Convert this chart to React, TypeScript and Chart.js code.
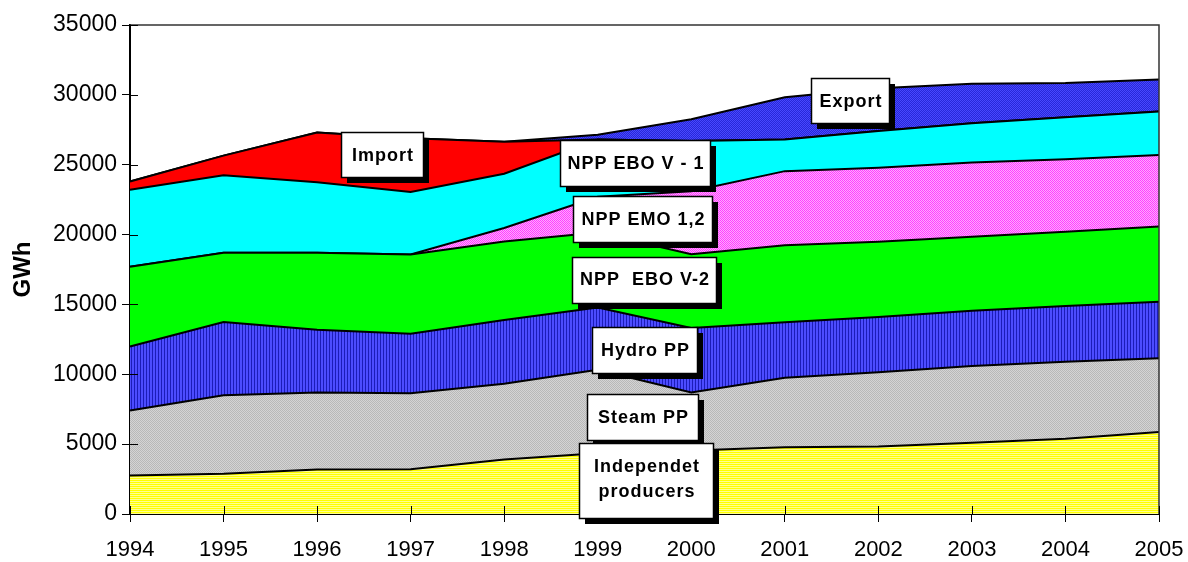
import React, { useEffect, useRef } from "react";
import { Chart, registerables } from "chart.js";

Chart.register(...registerables);

const years = ["1994", "1995", "1996", "1997", "1998", "1999", "2000", "2001", "2002", "2003", "2004", "2005"];
const independent = [2750, 2880, 3180, 3200, 3900, 4350, 4550, 4780, 4840, 5100, 5380, 5870];
const steam = [4650, 5620, 5520, 5440, 5420, 5980, 4140, 4970, 5310, 5490, 5520, 5270];
const hydro = [4590, 5240, 4490, 4260, 4560, 4450, 4630, 3980, 3950, 3960, 3990, 4060];
const eboV2 = [5710, 4960, 5510, 5680, 5620, 5370, 5280, 5500, 5380, 5300, 5320, 5370];
const emo12 = [0, 0, 0, 0, 970, 2550, 4500, 5310, 5310, 5300, 5180, 5130];
const eboV1 = [5500, 5550, 5050, 4470, 3880, 4100, 3600, 2260, 2630, 2810, 3010, 3100];
const importVals = [600, 1400, 3550, 3850, 2300, 0, 0, 0, 0, 0, 0, 0];
const exportVals = [0, 0, 0, 0, 0, 350, 1550, 3030, 3060, 2840, 2450, 2300];

const seriesNames = ["Independet producers", "Steam PP", "Hydro PP", "NPP  EBO V-2", "NPP EMO 1,2", "NPP EBO V - 1", "Import", "Export"];
const yTicks = [0, 5000, 10000, 15000, 20000, 25000, 30000, 35000];

const FONT = "'Liberation Sans', Arial, Helvetica, sans-serif";

type Box = { lines: string[]; x1: number; y1: number; x2: number; y2: number; base: number[] };
const boxes: Box[] = [
  { lines: ["Import"], x1: 341, y1: 132, x2: 423, y2: 177, base: [161] },
  { lines: ["NPP EBO V - 1"], x1: 560, y1: 140, x2: 710, y2: 186, base: [169] },
  { lines: ["NPP EMO 1,2"], x1: 573, y1: 196, x2: 712, y2: 242, base: [225] },
  { lines: ["NPP  EBO V-2"], x1: 572, y1: 257, x2: 716, y2: 303, base: [285] },
  { lines: ["Hydro PP"], x1: 592, y1: 327, x2: 697, y2: 373, base: [356] },
  { lines: ["Steam PP"], x1: 587, y1: 394, x2: 698, y2: 440, base: [423] },
  { lines: ["Independet", "producers"], x1: 579, y1: 443, x2: 713, y2: 518, base: [472, 497] },
  { lines: ["Export"], x1: 811, y1: 78, x2: 889, y2: 123, base: [107] },
];

function makePattern(ctx: CanvasRenderingContext2D, w: number, h: number, cells: string[][]) {
  const c = document.createElement("canvas");
  c.width = w;
  c.height = h;
  const g = c.getContext("2d")!;
  for (let y = 0; y < h; y++) {
    for (let x = 0; x < w; x++) {
      g.fillStyle = cells[y][x];
      g.fillRect(x, y, 1, 1);
    }
  }
  return ctx.createPattern(c, "repeat") as CanvasPattern;
}

const decorPlugin = {
  id: "decor",
  afterDatasetsDraw(chart: any) {
    const ctx = chart.ctx as CanvasRenderingContext2D;
    const { left, right, top, bottom } = chart.chartArea;
    const xs = chart.scales.x;
    const ys = chart.scales.y;
    ctx.save();
    ctx.strokeStyle = "#333";
    ctx.lineWidth = 1.5;
    ctx.beginPath();
    ctx.moveTo(left, top);
    ctx.lineTo(right, top);
    ctx.lineTo(right, bottom);
    ctx.stroke();
    ctx.strokeStyle = "#000";
    ctx.lineWidth = 1;
    ctx.beginPath();
    years.forEach((_, i) => {
      const x = Math.round(xs.getPixelForValue(i)) + 0.5;
      ctx.moveTo(x, bottom);
      ctx.lineTo(x, bottom - 8);
    });
    yTicks.forEach((v) => {
      const y = Math.round(ys.getPixelForValue(v)) + 0.5;
      ctx.moveTo(left, y);
      ctx.lineTo(left + 8, y);
    });
    ctx.stroke();
    ctx.restore();
  },
  afterDraw(chart: any) {
    const ctx = chart.ctx as CanvasRenderingContext2D;
    ctx.save();
    boxes.forEach((b) => {
      const w = b.x2 - b.x1;
      const h = b.y2 - b.y1;
      ctx.fillStyle = "#000";
      ctx.fillRect(b.x1 + 6, b.y1 + 6, w, h);
      ctx.fillStyle = "#fff";
      ctx.fillRect(b.x1, b.y1, w, h);
      ctx.strokeStyle = "#000";
      ctx.lineWidth = 1.5;
      ctx.strokeRect(b.x1 + 0.5, b.y1 + 0.5, w, h);
      ctx.fillStyle = "#000";
      ctx.font = `bold 18px ${FONT}`;
      (ctx as any).letterSpacing = "1px";
      ctx.textAlign = "center";
      ctx.textBaseline = "alphabetic";
      b.lines.forEach((t, i) => {
        ctx.fillText(t, (b.x1 + b.x2) / 2 + 1, b.base[i]);
      });
    });
    ctx.restore();
  },
};

export default function App() {
  const ref = useRef<HTMLCanvasElement | null>(null);
  useEffect(() => {
    const canvas = ref.current!;
    const ctx = canvas.getContext("2d")!;
    const pYellow = makePattern(ctx, 1, 2, [["#ffff00"], ["#ffff90"]]);
    const pGray = makePattern(ctx, 2, 2, [["#b8b8b8", "#d4d4d4"], ["#d4d4d4", "#b8b8b8"]]);
    const pHydro = makePattern(ctx, 3, 1, [["#4c4cff", "#4c4cff", "#1c1cb8"]]);
    const pPink = makePattern(ctx, 2, 2, [["#ff40ff", "#ffa8ff"], ["#ffa8ff", "#ff40ff"]]);
    const pExport = makePattern(ctx, 2, 2, [["#4848ff", "#2828d8"], ["#2828d8", "#4848ff"]]);
    const values = [independent, steam, hydro, eboV2, emo12, eboV1, importVals, exportVals];
    const fills: any[] = [pYellow, pGray, pHydro, "#00ff00", pPink, "#00ffff", "#ff0000", pExport];
    const chart = new Chart(canvas, {
      type: "line",
      data: {
        labels: years,
        datasets: values.map((d, i) => ({
          label: seriesNames[i],
          data: d,
          backgroundColor: fills[i],
          borderColor: "#000",
          borderWidth: 2,
          pointRadius: 0,
          tension: 0,
          fill: i === 0 ? "origin" : "-1",
        })),
      },
      options: {
        animation: false,
        responsive: false,
        devicePixelRatio: 1,
        layout: { padding: { top: 25, right: 29, left: 0, bottom: 0 } },
        plugins: { legend: { display: false }, tooltip: { enabled: false } },
        scales: {
          x: {
            offset: false,
            grid: { drawOnChartArea: false, drawTicks: true, tickLength: 8, color: "#000", lineWidth: 1 },
            border: { display: true, color: "#000", width: 2 },
            ticks: { color: "#000", font: { family: FONT, size: 22 }, padding: 15, maxRotation: 0, autoSkip: false },
            afterFit: (s: any) => {
              s.height = 48;
              s.paddingLeft = 0;
              s.paddingRight = 0;
            },
          },
          y: {
            stacked: true,
            min: 0,
            max: 35000,
            grid: { drawOnChartArea: false, drawTicks: true, tickLength: 8, color: "#000", lineWidth: 1 },
            border: { display: true, color: "#000", width: 2 },
            ticks: {
              stepSize: 5000,
              color: "#000",
              font: { family: FONT, size: 23 },
              padding: 5,
              callback: (v: any) => String(v),
            },
            title: { display: true, text: "GWh", color: "#000", font: { family: FONT, size: 24, weight: "bold" }, padding: { top: 9, bottom: 0 } },
            afterFit: (s: any) => {
              s.width = 130;
              s.paddingTop = 0;
              s.paddingBottom = 0;
            },
          },
        },
      },
      plugins: [decorPlugin],
    });
    return () => chart.destroy();
  }, []);
  return (
    <div style={{ position: "absolute", left: 0, top: 0, width: 1188, height: 562, background: "#fff" }}>
      <canvas ref={ref} width={1188} height={562} />
    </div>
  );
}
